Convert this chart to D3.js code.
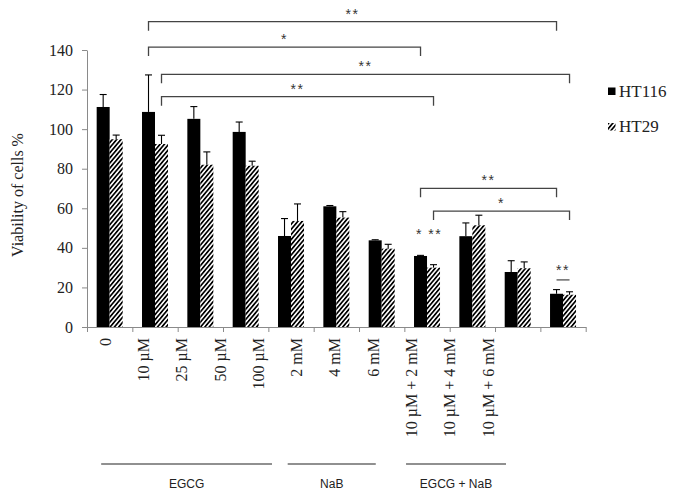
<!DOCTYPE html>
<html><head><meta charset="utf-8">
<script src="https://cdn.jsdelivr.net/npm/d3@7"></script>
<style>
html,body{margin:0;padding:0;background:#fff;}
svg{display:block;}
</style></head>
<body>
<svg id="chart" width="674" height="496"></svg>
<script>
// ---- data ----
const categories = ["0","10 µM","25 µM","50 µM","100 µM","2 mM","4 mM","6 mM","10 µM + 2 mM","10 µM + 4 mM","10 µM + 6 mM"];
const series = ["HT116","HT29"];
const ht116 = [111.2, 108.7, 105.2, 98.6, 46.0, 61.0, 43.8, 35.9, 45.9, 27.8, 16.8];
const ht116Err = [6.3, 18.7, 6.2, 5.0, 8.8, 0.4, 0.3, 0.3, 6.7, 5.7, 2.1];
const ht29 = [94.9, 92.5, 82.0, 81.5, 53.6, 55.3, 39.6, 30.0, 51.4, 29.7, 16.3];
const ht29Err = [2.1, 4.4, 6.5, 2.3, 8.6, 3.0, 2.2, 1.5, 5.1, 3.2, 1.5];
const yTicks = [0,20,40,60,80,100,120,140];
// group underline spans, in label-index units
const groups = [
  {name:"EGCG", start:-0.1, end:4.36},
  {name:"NaB", start:4.77, end:7.07},
  {name:"EGCG + NaB", start:7.86, end:10.47}
];
// significance brackets: [category, series] -> [category, series], level in y units
const brackets = [
  {from:[1,0], to:[10,0], level:154.3, label:"**"},
  {from:[1,0], to:[7,0],  level:141.5, label:"*"},
  {from:[1,1], to:[10,1], level:127.7, label:"**"},
  {from:[1,1], to:[7,1],  level:116.4, label:"**"},
  {from:[7,0], to:[10,0], level:70.1,  label:"**"},
  {from:[7,1], to:[10,1], level:58.6,  label:"*"}
];

// ---- layout ----
const svg = d3.select("#chart");
const mLeft = 87, mRight = 585.7, mTop = 50, mBottom = 327;
const serif = "'Liberation Serif','Times New Roman',serif";
const sans = "'Liberation Sans',Arial,sans-serif";

const x = d3.scaleBand().domain(categories).range([mLeft, mRight]).paddingInner(0).paddingOuter(0);
const x1 = d3.scaleBand().domain(series).range([0, x.bandwidth()]).paddingInner(0).paddingOuter(0.744);
const y = d3.scaleLinear().domain([0,140]).range([mBottom, mTop]);
const xLab = d3.scalePoint().domain(categories).range([105, 488]);
const xIdx = d3.scaleLinear().domain([0, categories.length]).range([mLeft, mRight]);

// hatch pattern
const defs = svg.append("defs");
const pat = defs.append("pattern").attr("id","hatch").attr("patternUnits","userSpaceOnUse")
  .attr("width",3.3).attr("height",3.3).attr("patternTransform","rotate(40)");
pat.append("rect").attr("width",3.3).attr("height",3.3).attr("fill","#fff");
pat.append("rect").attr("x",0).attr("y",0).attr("width",1.7).attr("height",3.3).attr("fill","#000");

const fills = {HT116:"#000", HT29:"url(#hatch)"};
const vals = {HT116: ht116, HT29: ht29};
const errs = {HT116: ht116Err, HT29: ht29Err};

// y axis
const yAxis = svg.append("g").attr("transform",`translate(${mLeft},0)`)
  .call(d3.axisLeft(y).tickValues(yTicks).tickSize(5).tickPadding(9).tickSizeOuter(0));
yAxis.select(".domain").attr("stroke","#8a8a8a");
yAxis.selectAll(".tick line").attr("stroke","#8a8a8a");
yAxis.selectAll(".tick text").attr("font-family",serif).attr("font-size",16).attr("fill","#222");

// x axis (boundary ticks)
const xAxis = svg.append("g").attr("transform",`translate(0,${mBottom})`)
  .call(d3.axisBottom(xIdx).tickValues(d3.range(0, categories.length+1)).tickSize(5).tickSizeOuter(0).tickFormat(""));
xAxis.select(".domain").attr("stroke","#8a8a8a");
xAxis.selectAll(".tick line").attr("stroke","#8a8a8a");

// bars
const barData = [];
categories.forEach((c,i)=>series.forEach(s=>barData.push({c,i,s,v:vals[s][i],e:errs[s][i]})));
svg.append("g").selectAll("rect").data(barData).join("rect")
  .attr("x",d=>x(d.c)+x1(d.s)).attr("width",x1.bandwidth())
  .attr("y",d=>y(d.v)).attr("height",d=>y(0)-y(d.v))
  .attr("fill",d=>fills[d.s]);

// error bars (upper)
const eg = svg.append("g").attr("stroke","#000").attr("stroke-width",1.1);
barData.forEach(d=>{
  const cx = x(d.c)+x1(d.s)+x1.bandwidth()/2;
  eg.append("line").attr("x1",cx).attr("x2",cx).attr("y1",y(d.v)).attr("y2",y(d.v+d.e));
  eg.append("line").attr("x1",cx-3.5).attr("x2",cx+3.5).attr("y1",y(d.v+d.e)).attr("y2",y(d.v+d.e));
});

// x labels
svg.append("g").selectAll("text").data(categories).join("text")
  .attr("transform",d=>`translate(${xLab(d)},338) rotate(-90)`)
  .attr("dy","0.35em").attr("text-anchor","end")
  .attr("font-family",serif).attr("font-size",16).attr("fill","#222")
  .text(d=>d);

// group lines + labels
const gx = d3.scaleLinear().domain([0, categories.length-1]).range([xLab(categories[0]), xLab(categories[categories.length-1])]);
const gg = svg.append("g");
groups.forEach(g=>{
  const x0 = gx(g.start), x2 = gx(g.end);
  gg.append("line").attr("x1",x0).attr("x2",x2).attr("y1",464).attr("y2",464).attr("stroke","#222").attr("stroke-width",1.2);
  gg.append("text").attr("x",(x0+x2)/2).attr("y",488).attr("text-anchor","middle")
    .attr("font-family",sans).attr("font-size",12).attr("fill","#222").text(g.name);
});

// brackets
const bx = p => x(categories[p[0]]) + x1(series[p[1]]) + x1.bandwidth()/2;
const bg = svg.append("g");
brackets.forEach(b=>{
  const xa = bx(b.from), xb = bx(b.to), yy = y(b.level);
  bg.append("path").attr("d",`M${xa},${yy+9}V${yy}H${xb}V${yy+9}`)
    .attr("fill","none").attr("stroke","#444").attr("stroke-width",1.3);
  bg.append("text").attr("x",(xa+xb)/2).attr("y",yy-3).attr("text-anchor","middle")
    .attr("font-family",sans).attr("font-size",14).attr("fill","#333").attr("letter-spacing",1.5).text(b.label);
});
// single-bar annotations
bg.append("text").attr("x",x(categories[7])+x.bandwidth()/2+2).attr("y",y(44.5)).attr("text-anchor","middle")
  .attr("font-family",sans).attr("font-size",14).attr("fill","#333").attr("letter-spacing",1.5)
  .attr("xml:space","preserve").text("* **");
const c10 = categories[10];
const lx0 = x(c10)+x1("HT116")+x1.bandwidth()/2, lx1 = x(c10)+x1("HT29")+x1.bandwidth()/2;
bg.append("line").attr("x1",lx0).attr("x2",lx1).attr("y1",y(23.8)).attr("y2",y(23.8)).attr("stroke","#444").attr("stroke-width",1.2);
bg.append("text").attr("x",(lx0+lx1)/2).attr("y",y(23.8)-5).attr("text-anchor","middle")
  .attr("font-family",sans).attr("font-size",14).attr("fill","#333").attr("letter-spacing",1.5).text("**");

// legend
const lg = svg.append("g");
series.forEach((s,i)=>{
  const yy = 87.5 + i*35.5;
  lg.append("rect").attr("x",608).attr("y",yy).attr("width",7.5).attr("height",7.5).attr("fill",fills[s]);
  lg.append("text").attr("x",619).attr("y",yy+9).attr("font-family",serif).attr("font-size",17).attr("fill","#222").text(s);
});

// y title
svg.append("text").attr("transform","translate(17,195) rotate(-90)").attr("dy","0.35em")
  .attr("text-anchor","middle").attr("font-family",serif).attr("font-size",16).attr("fill","#222")
  .text("Viability of cells %");
</script>
</body></html>
